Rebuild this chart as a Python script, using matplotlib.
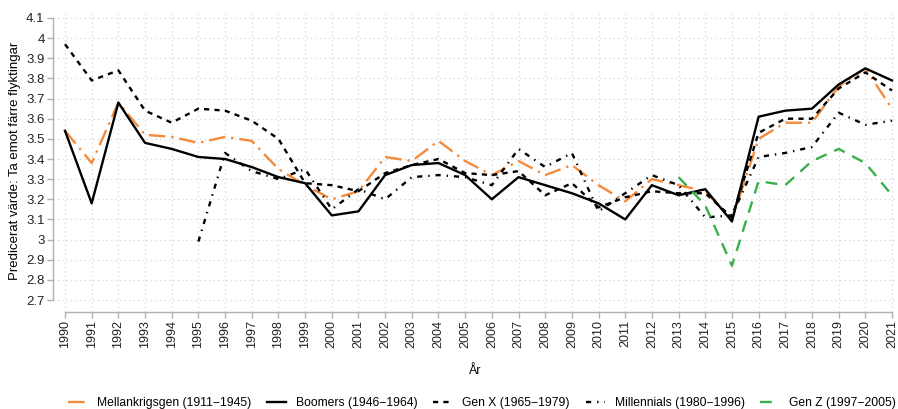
import numpy as np
import matplotlib
matplotlib.use("Agg")
import matplotlib.pyplot as plt

plt.rcParams['font.family'] = ['Liberation Sans', 'DejaVu Sans']

years = list(range(1990, 2022))

mellan = [3.54, 3.38, 3.68, 3.52, 3.51, 3.48, 3.51, 3.49, 3.35, 3.27, 3.20, 3.24,
          3.41, 3.39, 3.49, 3.39, 3.32, 3.39, 3.32, 3.37, 3.27, 3.19, 3.30, 3.27,
          3.24, 3.10, 3.50, 3.58, 3.58, 3.76, 3.85, 3.65]
boomers = [3.54, 3.18, 3.68, 3.48, 3.45, 3.41, 3.40, 3.36, 3.31, 3.28, 3.12, 3.14,
           3.32, 3.37, 3.38, 3.32, 3.20, 3.31, 3.27, 3.23, 3.18, 3.10, 3.27, 3.22,
           3.25, 3.09, 3.61, 3.64, 3.65, 3.77, 3.85, 3.79]
genx = [3.97, 3.79, 3.84, 3.64, 3.58, 3.65, 3.64, 3.59, 3.50, 3.28, 3.27, 3.24,
        3.33, 3.37, 3.40, 3.33, 3.32, 3.34, 3.22, 3.28, 3.16, 3.21, 3.24, 3.23,
        3.23, 3.11, 3.53, 3.60, 3.60, 3.75, 3.83, 3.74]
mill_years = list(range(1995, 2022))
millennials = [2.99, 3.43, 3.34, 3.30, 3.35, 3.15, 3.25, 3.20, 3.31, 3.32, 3.31,
               3.27, 3.45, 3.36, 3.43, 3.14, 3.23, 3.32, 3.27, 3.11, 3.12, 3.41,
               3.43, 3.46, 3.63, 3.57, 3.59]
genz_years = list(range(2013, 2022))
genz = [3.31, 3.17, 2.87, 3.29, 3.27, 3.39, 3.45, 3.38, 3.22]

y_ticks = [2.7, 2.8, 2.9, 3.0, 3.1, 3.2, 3.3, 3.4, 3.5, 3.6, 3.7, 3.8, 3.9, 4.0, 4.1]
y_labels = ['2.7', '2.8', '2.9', '3', '3.1', '3.2', '3.3', '3.4', '3.5', '3.6',
            '3.7', '3.8', '3.9', '4', '4.1']

W, H = 898, 409
fig = plt.figure(figsize=(W / 100, H / 100), dpi=100)
# axes box in pixels: left 53, right 898, top 10, bottom 312
ax = fig.add_axes([53 / W, 1 - 312 / H, (898 - 53) / W, (312 - 10) / H])

px_year = (892 - 65) / 31
px_val = (300 - 18) / 1.4
ax.set_xlim(1990 - 12 / px_year, 2021 + 6 / px_year)
ax.set_ylim(2.7 - 12 / px_val, 4.1 + 8 / px_val)

ax.plot(years, mellan, color='#F58A3A', lw=1.7, dashes=(7, 2.5, 1, 2.5),
        label='Mellankrigsgen (1911\u22121945)')
ax.plot(years, boomers, color='black', lw=1.7, label='Boomers (1946\u22121964)')
ax.plot(years, genx, color='black', lw=1.7, dashes=(2.2, 2.2),
        label='Gen X (1965\u22121979)')
ax.plot(mill_years, millennials, color='black', lw=1.7, dashes=(2.2, 2.5, 0.6, 2.5),
        label='Millennials (1980\u22121996)')
ax.plot(genz_years, genz, color='#3AB04B', lw=1.7, dashes=(5, 3.5),
        label='Gen Z (1997\u22122005)')

ax.set_xticks(years)
ax.set_xticklabels([str(y) for y in years], rotation=90, fontsize=9)
ax.set_yticks(y_ticks)
ax.set_yticklabels(y_labels, fontsize=9.5)
ax.grid(True, color='#cfcfcf', linestyle=(0, (1, 3)), lw=0.8)

for s in ['top', 'right']:
    ax.spines[s].set_visible(False)
ax.spines['left'].set_bounds(2.7, 4.1)
ax.spines['bottom'].set_bounds(1990, 2021)
for s in ['left', 'bottom']:
    ax.spines[s].set_color('#b0b0b0')
    ax.spines[s].set_linewidth(1.0)
ax.tick_params(colors='#b0b0b0', labelcolor='#222222', length=4, width=1.0, pad=2)

ax.set_ylabel('Predicerat v\u00e4rde: Ta emot f\u00e4rre flyktingar', fontsize=9.5, labelpad=4)
ax.set_xlabel('\u00c5r', fontsize=9, labelpad=12)

fig.legend(loc='center', bbox_to_anchor=(0.537, 1 - 403 / H), ncol=5, frameon=False,
           fontsize=8.7, handlelength=1.6, columnspacing=1.3, handletextpad=0.8)

fig.savefig('out.png', dpi=100)
